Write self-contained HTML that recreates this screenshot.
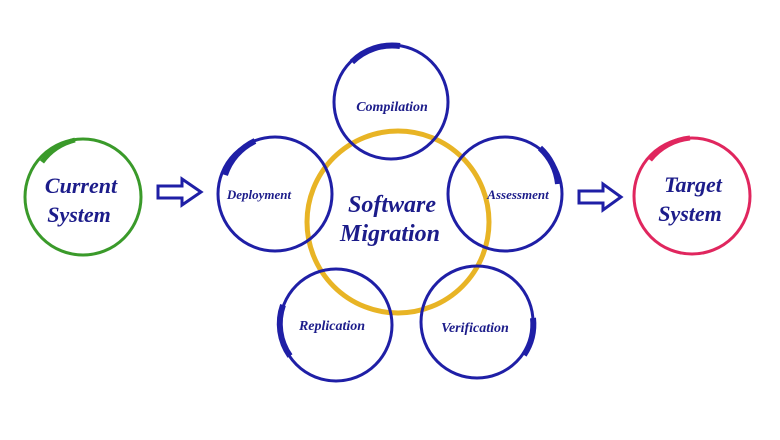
<!DOCTYPE html>
<html><head><meta charset="utf-8"><style>
html,body{margin:0;padding:0;background:#fff;width:780px;height:440px;overflow:hidden}
text{font-family:"Liberation Serif",serif;font-style:italic;fill:#1c1c8a}
</style></head><body>
<svg width="780" height="440" viewBox="0 0 780 440" xmlns="http://www.w3.org/2000/svg">
<g fill="none">
<circle cx="398" cy="222" r="91" stroke="#e8b425" stroke-width="5"/>
<circle cx="83" cy="197" r="58" stroke="#3a9a2a" stroke-width="3"/>
<path d="M42 162 A58 58 0 0 1 75 140" stroke="#3a9a2a" stroke-width="5"/>
<circle cx="692" cy="196" r="58" stroke="#e0265e" stroke-width="3"/>
<path d="M650 160 A58 58 0 0 1 690 138" stroke="#e0265e" stroke-width="5"/>
<g stroke="#1f1fa6" stroke-width="3">
<circle cx="275" cy="194" r="57"/>
<circle cx="391" cy="102" r="57"/>
<circle cx="505" cy="194" r="57"/>
<circle cx="336" cy="325" r="56"/>
<circle cx="477" cy="322" r="56"/>
</g>
<g stroke="#1f1fa6" stroke-width="6">
<path d="M225 175 A57 57 0 0 1 255 141"/>
<path d="M352 62 A57 57 0 0 1 400 46"/>
<path d="M540 148 A57 57 0 0 1 558 184"/>
<path d="M290 356 A56 56 0 0 1 283 305"/>
<path d="M524 355 A56 56 0 0 0 533 318"/>
</g>
<g stroke="#1f1fa6" stroke-width="3" stroke-linejoin="miter">
<path d="M158 186 H182 V179 L201 192 L182 205 V198 H158 Z"/>
<path d="M579 191 H603 V184 L621 197 L603 210 V203 H579 Z"/>
</g>
</g>
<g font-weight="bold">
<text x="81" y="193" font-size="22" text-anchor="middle">Current</text>
<text x="79" y="222" font-size="22" text-anchor="middle">System</text>
<text x="693" y="192" font-size="22" text-anchor="middle">Target</text>
<text x="690" y="221" font-size="22" text-anchor="middle">System</text>
<text x="392" y="111" font-size="14" text-anchor="middle">Compilation</text>
<text x="259" y="199" font-size="13" text-anchor="middle">Deployment</text>
<text x="518" y="199" font-size="13" text-anchor="middle">Assessment</text>
<text x="332" y="330" font-size="14" text-anchor="middle">Replication</text>
<text x="475" y="332" font-size="14" text-anchor="middle">Verification</text>
<text x="392" y="212" font-size="24" text-anchor="middle">Software</text>
<text x="390" y="241" font-size="24" text-anchor="middle">Migration</text>
</g>
</svg>
</body></html>
